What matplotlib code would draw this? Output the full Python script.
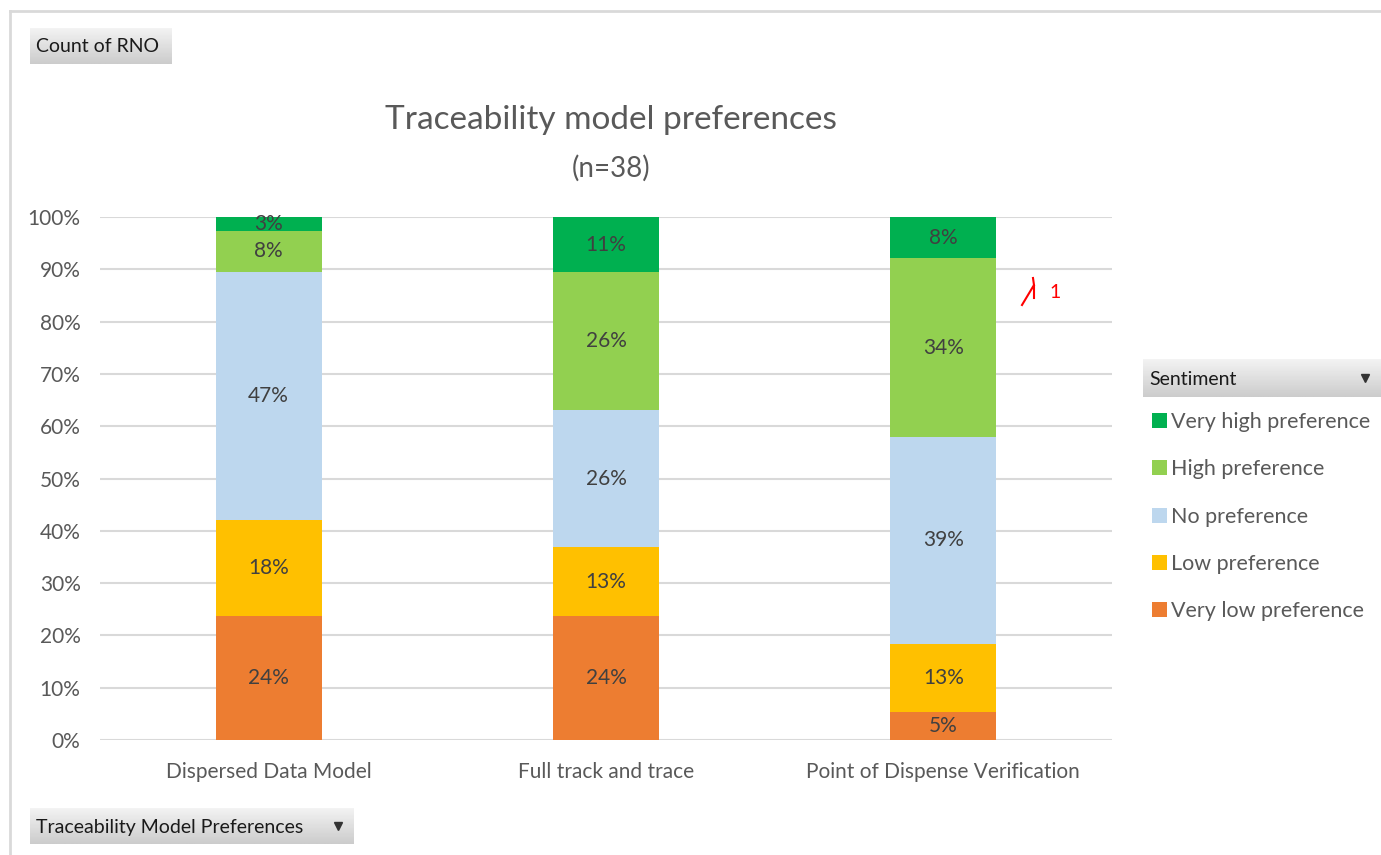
import numpy as np
import matplotlib
matplotlib.use("Agg")
import matplotlib.pyplot as plt
from matplotlib.patches import Patch

plt.rcParams['font.family'] = ['Lato', 'DejaVu Sans']

# counts per sentiment (n=38 per model)
models = ['Dispersed Data Model', 'Full track and trace', 'Point of Dispense Verification']
sentiments = ['Very low preference', 'Low preference', 'No preference', 'High preference', 'Very high preference']
very_low = [9, 9, 2]
low = [7, 5, 5]
no_pref = [18, 10, 15]
high = [3, 10, 13]
very_high = [1, 4, 3]
colors = ['#ED7D31', '#FFC000', '#BDD7EE', '#92D050', '#00B050']

counts = np.array([very_low, low, no_pref, high, very_high], dtype=float)
shares = counts / counts.sum(axis=0)

W, H = 1381, 855
fig = plt.figure(figsize=(W / 100, H / 100), dpi=100)
fig.patch.set_facecolor('white')

ax = fig.add_axes([100 / W, 1 - 740 / H, (1112 - 100) / W, (740 - 217) / H])
x = np.arange(len(models))
bottom = np.zeros(len(models))
for i, name in enumerate(sentiments):
    bars = ax.bar(x, shares[i], 0.315, bottom=bottom, color=colors[i], label=name, zorder=3)
    labels = ['{:.0f}%'.format(v * 100) for v in shares[i]]
    ax.bar_label(bars, labels=labels, label_type='center', color='#404040', fontsize=15)
    bottom += shares[i]

ax.set_xlim(-0.5, 2.5)
ax.set_ylim(0, 1)
ax.set_yticks(np.arange(0, 1.01, 0.1))
ax.set_yticklabels(['{:.0f}%'.format(v * 100) for v in np.arange(0, 1.01, 0.1)])
ax.set_xticks(x)
ax.set_xticklabels(models)
ax.tick_params(axis='both', length=0, labelsize=15, labelcolor='#595959')
ax.tick_params(axis='y', pad=14)
ax.tick_params(axis='x', pad=16)
ax.grid(axis='y', color='#D9D9D9', linewidth=1.5, zorder=0)
for s in ax.spines.values():
    s.set_visible(False)

fig.text(611 / W, 1 - 120 / H, 'Traceability model preferences', ha='center', va='center',
         fontsize=24, color='#595959')
fig.text(611 / W, 1 - 168 / H, '(n=38)', ha='center', va='center', fontsize=20, color='#595959')

handles = [Patch(facecolor=colors[i], label=sentiments[i]) for i in range(4, -1, -1)]
fig.legend(handles=handles, loc='upper left', bbox_to_anchor=(1137 / W, 1 - 397 / H),
           frameon=False, fontsize=15.5, labelcolor='#595959', handlelength=0.7,
           handleheight=0.7, handletextpad=0.2, labelspacing=1.27, borderpad=0.2)

# overlay for pivot buttons, frame and the red mark
ov = fig.add_axes([0, 0, 1, 1])
ov.set_facecolor('none')
ov.axis('off')
grad = np.linspace(0.95, 0.80, 32).reshape(-1, 1)

def button(x0, x1, y0, y1, text, arrow=False):
    ov.imshow(grad, cmap='gray', vmin=0, vmax=1, extent=[x0, x1, y1, y0], aspect='auto', zorder=1)
    ov.text(x0 + 6, (y0 + y1) / 2 + 1, text, ha='left', va='center', fontsize=14, color='#1a1a1a', zorder=2)
    if arrow:
        ov.plot(x1 - 16, (y0 + y1) / 2, marker='v', color='#333333', markersize=6, zorder=2)

button(30, 172, 28, 64, 'Count of RNO')
button(30, 354, 808, 844, 'Traceability Model Preferences', arrow=True)
button(1143, 1381, 360, 397, 'Sentiment', arrow=True)

ov.plot([10, 1381], [11, 11], color='#D9D9D9', linewidth=2)
ov.plot([10, 10], [11, 855], color='#D9D9D9', linewidth=2)

ov.plot([1022, 1034, 1034], [305, 285, 298], color='red', linewidth=1.5)
ov.plot([1034, 1033], [285, 278], color='red', linewidth=1.5)
ov.text(1055, 292, '1', color='red', fontsize=14, ha='center', va='center')

ov.set_xlim(0, W)
ov.set_ylim(H, 0)

fig.savefig('out.png', dpi=100)
